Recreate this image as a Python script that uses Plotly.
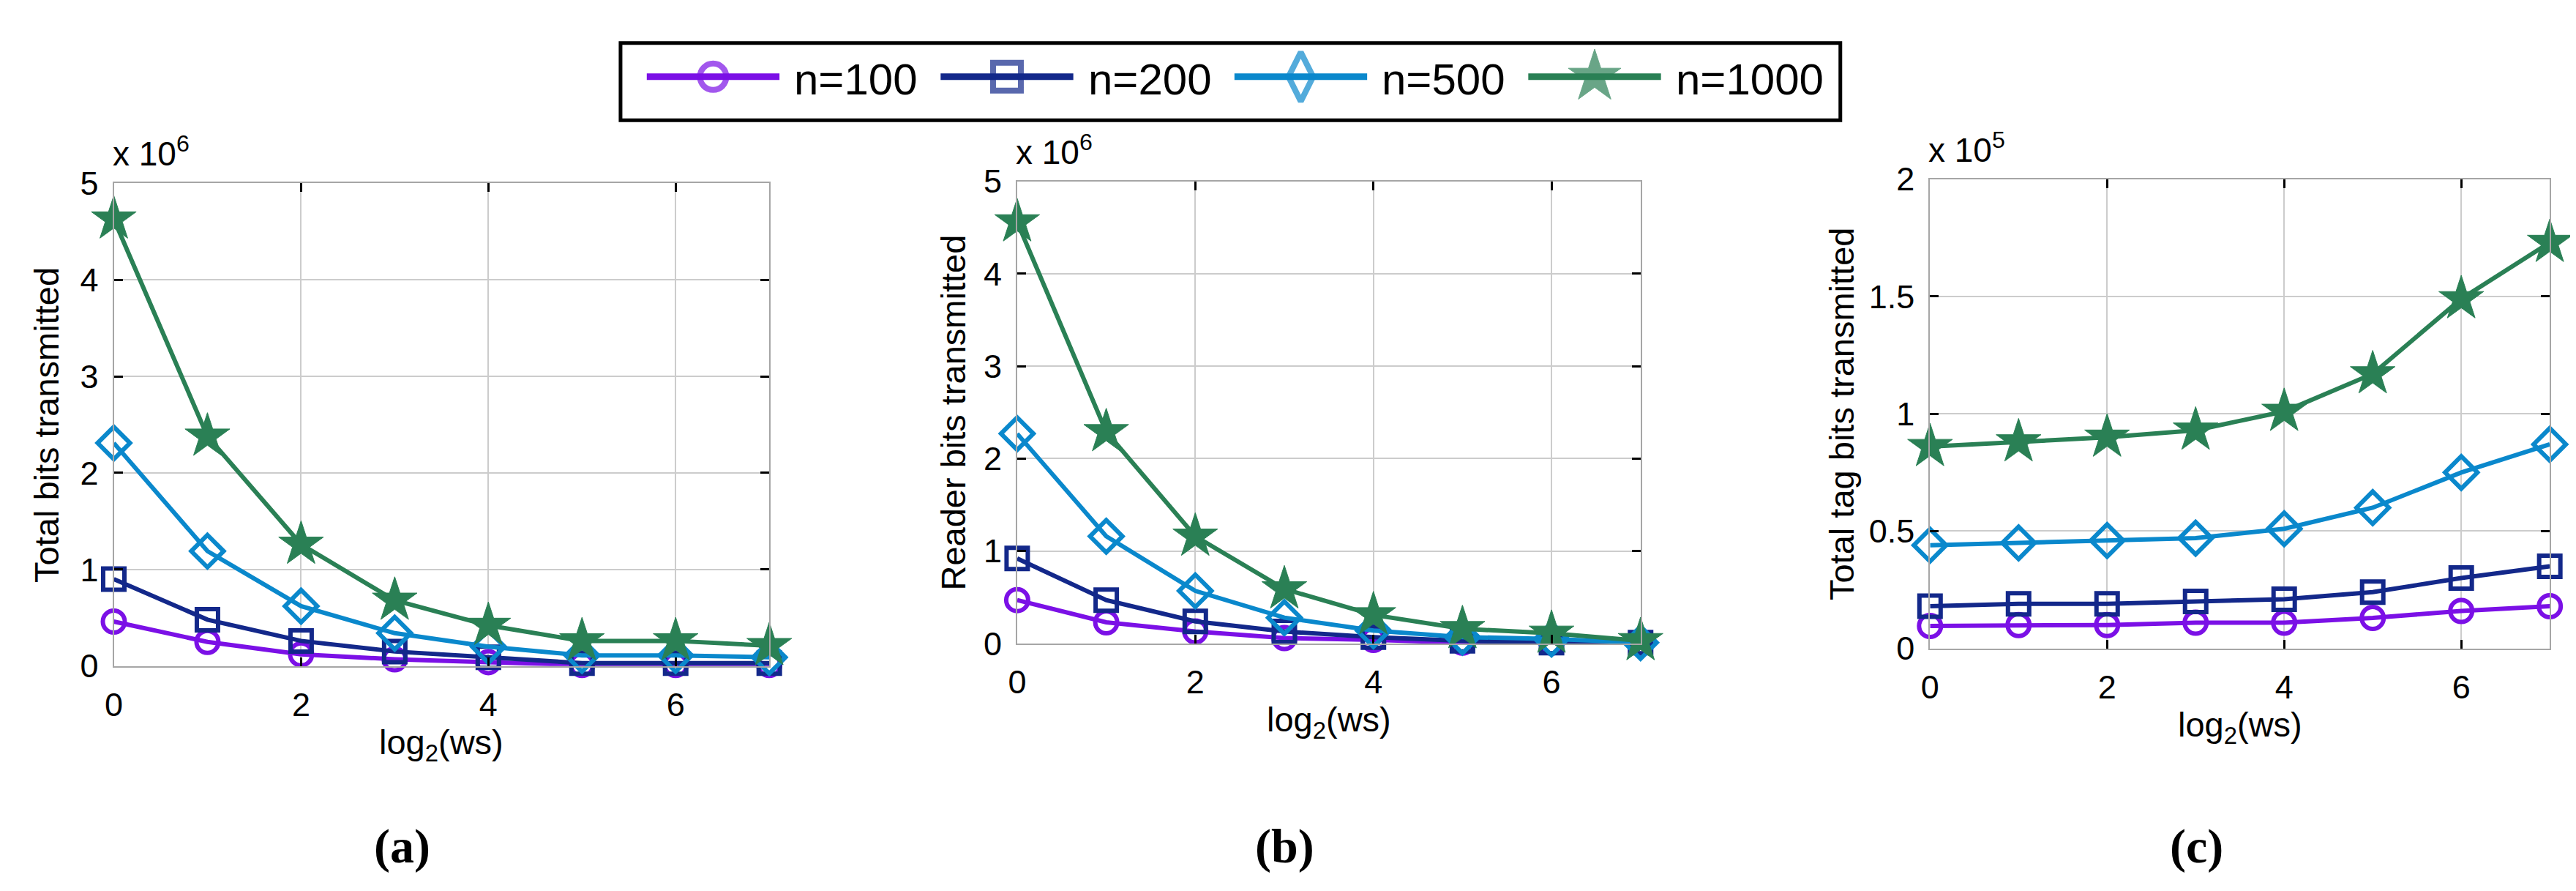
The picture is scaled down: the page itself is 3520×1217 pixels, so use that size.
import plotly.graph_objects as go

# x values shared by all panels
ws_log2 = [0, 1, 2, 3, 4, 5, 6, 7]

series_names = ["n=100", "n=200", "n=500", "n=1000"]
series_colors = ["#7B10E6", "#13288A", "#0A88CC", "#2A8055"]
series_symbols = ["circle-open", "square-open", "diamond-open", "star"]

# (a) Total bits transmitted, in units of 10^6
total_100 = [0.46, 0.25, 0.12, 0.07, 0.04, 0.01, 0.01, 0.01]
total_200 = [0.90, 0.48, 0.26, 0.15, 0.09, 0.03, 0.03, 0.03]
total_500 = [2.31, 1.19, 0.62, 0.34, 0.20, 0.11, 0.11, 0.09]
total_1000 = [4.63, 2.38, 1.26, 0.68, 0.42, 0.26, 0.26, 0.21]

# (b) Reader bits transmitted, in units of 10^6
reader_100 = [0.47, 0.23, 0.13, 0.06, 0.04, 0.01, 0.01, 0.01]
reader_200 = [0.92, 0.47, 0.24, 0.13, 0.07, 0.03, 0.01, 0.01]
reader_500 = [2.27, 1.16, 0.57, 0.28, 0.14, 0.07, 0.05, 0.01]
reader_1000 = [4.56, 2.29, 1.16, 0.59, 0.31, 0.16, 0.11, 0.03]

# (c) Total tag bits transmitted, in units of 10^5
tag_100 = [0.096, 0.10, 0.10, 0.11, 0.11, 0.13, 0.16, 0.18]
tag_200 = [0.18, 0.19, 0.19, 0.20, 0.21, 0.24, 0.30, 0.35]
tag_500 = [0.44, 0.45, 0.46, 0.47, 0.51, 0.60, 0.75, 0.87]
tag_1000 = [0.86, 0.88, 0.90, 0.93, 1.01, 1.17, 1.49, 1.73]

y_titles = ["Total bits transmitted", "Reader bits transmitted", "Total tag bits transmitted"]
exponents = ["x 10<sup>6</sup>", "x 10<sup>6</sup>", "x 10<sup>5</sup>"]
captions = ["(a)", "(b)", "(c)"]
yticks_ab = [0, 1, 2, 3, 4, 5]
yticks_c = [0, 0.5, 1, 1.5, 2]
yticklabels_c = ["0", "0.5", "1", "1.5", "2"]
xticks = [0, 2, 4, 6]

W, H = 3520, 1217
FONT = "Liberation Sans, Arial, sans-serif"


def xdom(left, right):
    return [left / W, right / W]


def ydom(top, bottom):
    return [1 - bottom / H, 1 - top / H]


# plot boxes in pixels: (left, right, top, bottom)
boxes = [(135, 1034, 227, 915), (1374, 2229, 224, 883), (2626, 3476, 221, 890)]

panel_data = [
    [total_100, total_200, total_500, total_1000],
    [reader_100, reader_200, reader_500, reader_1000],
    [tag_100, tag_200, tag_500, tag_1000],
]

marker_sizes = [30, 29, 34, 46]

fig = go.Figure()

for p, series in enumerate(panel_data):
    ax = "" if p == 0 else str(p + 1)
    for i, ys in enumerate(series):
        fig.add_trace(go.Scatter(
            x=ws_log2, y=ys, mode="lines+markers", name=series_names[i],
            xaxis="x" + ax, yaxis="y" + ax, showlegend=False, cliponaxis=False,
            line=dict(color=series_colors[i], width=6),
            marker=dict(symbol=series_symbols[i], size=marker_sizes[i], color=series_colors[i],
                        line=dict(color=series_colors[i], width=6 if i < 3 else 1)),
        ))

axis_style = dict(
    showline=True, linecolor="#a6a6a6", linewidth=2, mirror="ticks",
    ticks="inside", ticklen=12, tickwidth=3, tickcolor="black",
    showgrid=True, gridcolor="#cccccc", gridwidth=1.5, zeroline=False,
    tickfont=dict(family=FONT, size=45, color="black"),
)

layout = dict(
    width=W, height=H, paper_bgcolor="white", plot_bgcolor="white",
    margin=dict(l=0, r=0, t=0, b=0), showlegend=False,
)

annotations = []
for p, (l, r, t, b) in enumerate(boxes):
    ax = "" if p == 0 else str(p + 1)
    xa = dict(axis_style, domain=xdom(l, r), range=[0, 7], tickvals=xticks,
              ticklabelstandoff=12, anchor="y" + ax)
    if p < 2:
        ya = dict(axis_style, domain=ydom(t, b), range=[0, 5], tickvals=yticks_ab,
                  ticklabelstandoff=10, anchor="x" + ax)
    else:
        ya = dict(axis_style, domain=ydom(t, b), range=[0, 2], tickvals=yticks_c,
                  ticktext=yticklabels_c, ticklabelstandoff=10, anchor="x" + ax)
    layout["xaxis" + ax] = xa
    layout["yaxis" + ax] = ya

    # exponent label above the y axis
    annotations.append(dict(
        text=exponents[p], xref="x" + ax + " domain", yref="y" + ax + " domain",
        x=0, y=1, xanchor="left", yanchor="bottom", yshift=12, xshift=-4, showarrow=False,
        font=dict(family=FONT, size=46, color="black"),
    ))
    # axis titles
    annotations.append(dict(
        text="log<sub>2</sub>(ws)", xref="paper", yref="paper",
        x=(l + r) / 2 / W, y=1 - (b + 112) / H, xanchor="center", yanchor="middle",
        showarrow=False, font=dict(family=FONT, size=47, color="black"),
    ))
    title_x = [42, 1286, 2504][p]
    annotations.append(dict(
        text=y_titles[p], xref="paper", yref="paper", textangle=-90,
        x=title_x / W, y=1 - (t + b) / 2 / H, xanchor="center", yanchor="middle",
        showarrow=False, font=dict(family=FONT, size=47, color="black"),
    ))
    # panel caption
    caption_x = [530, 1741, 2992][p]
    annotations.append(dict(
        text="<b>" + captions[p] + "</b>", xref="paper", yref="paper",
        x=caption_x / W, y=1 - 1172 / H, xanchor="center", yanchor="middle",
        showarrow=False, font=dict(family="Liberation Serif, Times New Roman, serif", size=66, color="black"),
    ))

# hand-drawn legend on a hidden axis whose units are pixels inside the legend box
leg_left, leg_right, leg_top, leg_bottom = 830, 2503, 27, 137
layout["xaxis4"] = dict(domain=xdom(leg_left, leg_right), range=[0, leg_right - leg_left],
                        visible=False, fixedrange=True, anchor="y4")
layout["yaxis4"] = dict(domain=ydom(leg_top, leg_bottom), range=[0, leg_bottom - leg_top],
                        visible=False, fixedrange=True, anchor="x4")

legend_marker_sizes = [36, 38, 48, 54]
legend_symbols = ["circle-open", "square-open", "diamond-tall-open", "star"]
entry_pitch = 403
for i, name in enumerate(series_names):
    x0 = 36 + i * entry_pitch
    fig.add_trace(go.Scatter(
        x=[x0, x0 + 91, x0 + 182], y=[62, 62, 62], mode="lines+markers",
        xaxis="x4", yaxis="y4", showlegend=False, cliponaxis=False, hoverinfo="skip",
        line=dict(color=series_colors[i], width=9),
        marker=dict(symbol=legend_symbols[i], size=[0, legend_marker_sizes[i], 0],
                    color=series_colors[i],
                    line=dict(color=series_colors[i], width=[0, 8 if i < 3 else 1, 0])),
    ))
    annotations.append(dict(
        text=name, xref="x4", yref="y4", x=x0 + 200, y=58, xanchor="left", yanchor="middle",
        showarrow=False, font=dict(family=FONT, size=60, color="black"),
    ))

layout["annotations"] = annotations
layout["shapes"] = [dict(
    type="rect", xref="paper", yref="paper",
    x0=leg_left / W, x1=leg_right / W, y0=1 - leg_bottom / H, y1=1 - leg_top / H,
    line=dict(color="black", width=5), fillcolor="rgba(0,0,0,0)",
)]

fig.update_layout(layout)
fig.write_html("out.html")
